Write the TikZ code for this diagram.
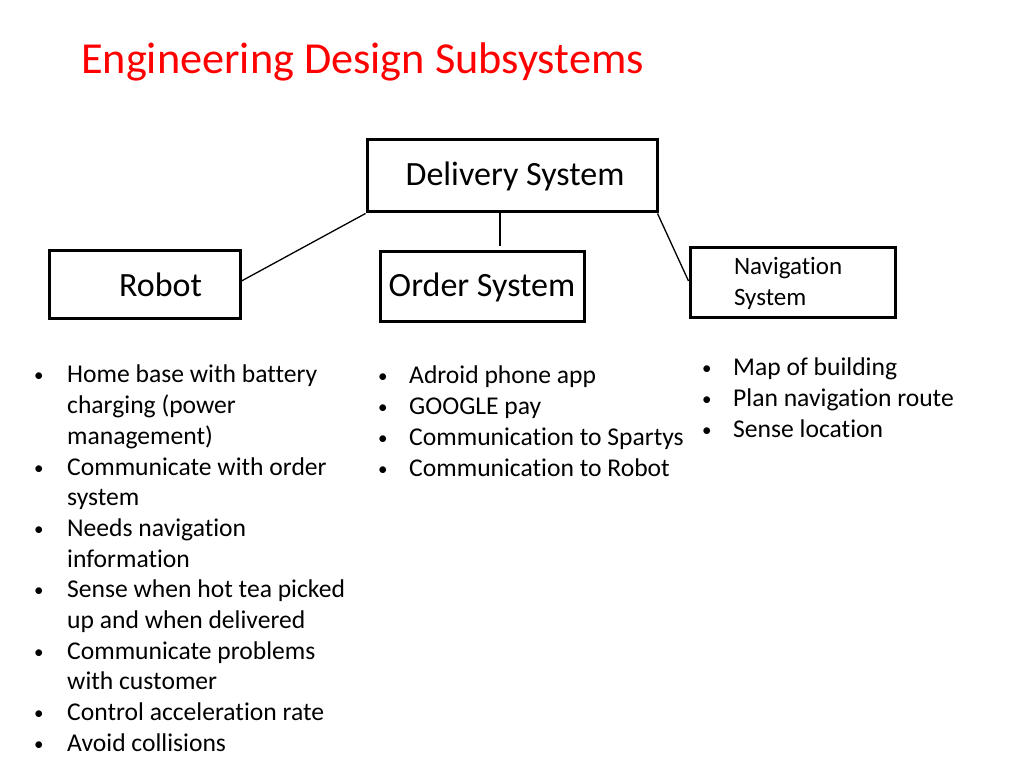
\documentclass[tikz,border=0pt]{standalone}
\usepackage{fontspec}
\setmainfont{Carlito}[Ligatures=NoCommon]
\newcommand{\bul}{\raisebox{1pt}{\fontsize{19}{19}\selectfont\textbullet}}
\begin{document}
\begin{tikzpicture}[x=1pt,y=1pt,
  box/.style={draw=black, line width=3pt, inner sep=0pt, font=\fontsize{34}{40}\selectfont},
  conn/.style={draw=black, line width=1.3pt},
  blist/.style={anchor=base west, inner sep=0pt, font=\fontsize{25.6}{30.7}\selectfont},
  titlestyle/.style={anchor=base west, inner sep=0pt, text=red, font=\fontsize{44.3}{52}\selectfont}
]
\useasboundingbox[fill=white] (0,0) rectangle (1024,768);

\node[titlestyle] (title) at (81,694) {Engineering Design Subsystems};

\node[box, minimum width=290pt, minimum height=72pt] (D) at (512,592) {\hspace*{6pt}Delivery System};
\node[box, minimum width=191pt, minimum height=68pt] (R) at (144.5,483) {\hspace*{32pt}Robot};
\node[box, minimum width=204pt, minimum height=70pt] (O) at (482,481) {Order System};
\node[box, minimum width=205pt, minimum height=70pt, text width=205pt, align=left,
      font=\fontsize{25}{31}\selectfont] (N) at (792.5,485) {\hspace*{44pt}Navigation\\\hspace*{44pt}System};

\coordinate (oc) at (500,522);
\draw[conn] (D.south west) -- ([yshift=4pt]R.east);
\draw[conn] ([xshift=-12pt]D.south) -- (oc);
\draw[conn] ([xshift=-1pt]D.south east) -- ([yshift=2pt]N.west);

\node[blist] (L1) at (34,385) {\begin{tabular}[t]{@{}p{33pt}@{}l@{}}
\bul & Home base with battery\\
 & charging (power\\
 & management)\\
\bul & Communicate with order\\
 & system\\
\bul & Needs navigation\\
 & information\\
\bul & Sense when hot tea picked\\
 & up and when delivered\\
\bul & Communicate problems\\
 & with customer\\
\bul & Control acceleration rate\\
\bul & Avoid collisions
\end{tabular}};

\node[blist] (L2) at (378,384) {\begin{tabular}[t]{@{}p{31pt}@{}l@{}}
\bul & Adroid phone app\\
\bul & GOOGLE pay\\
\bul & Communication to Spartys\\
\bul & Communication to Robot
\end{tabular}};

\node[blist] (L3) at (702,392) {\begin{tabular}[t]{@{}p{31pt}@{}l@{}}
\bul & Map of building\\
\bul & Plan navigation route\\
\bul & Sense location
\end{tabular}};
\end{tikzpicture}
\end{document}
